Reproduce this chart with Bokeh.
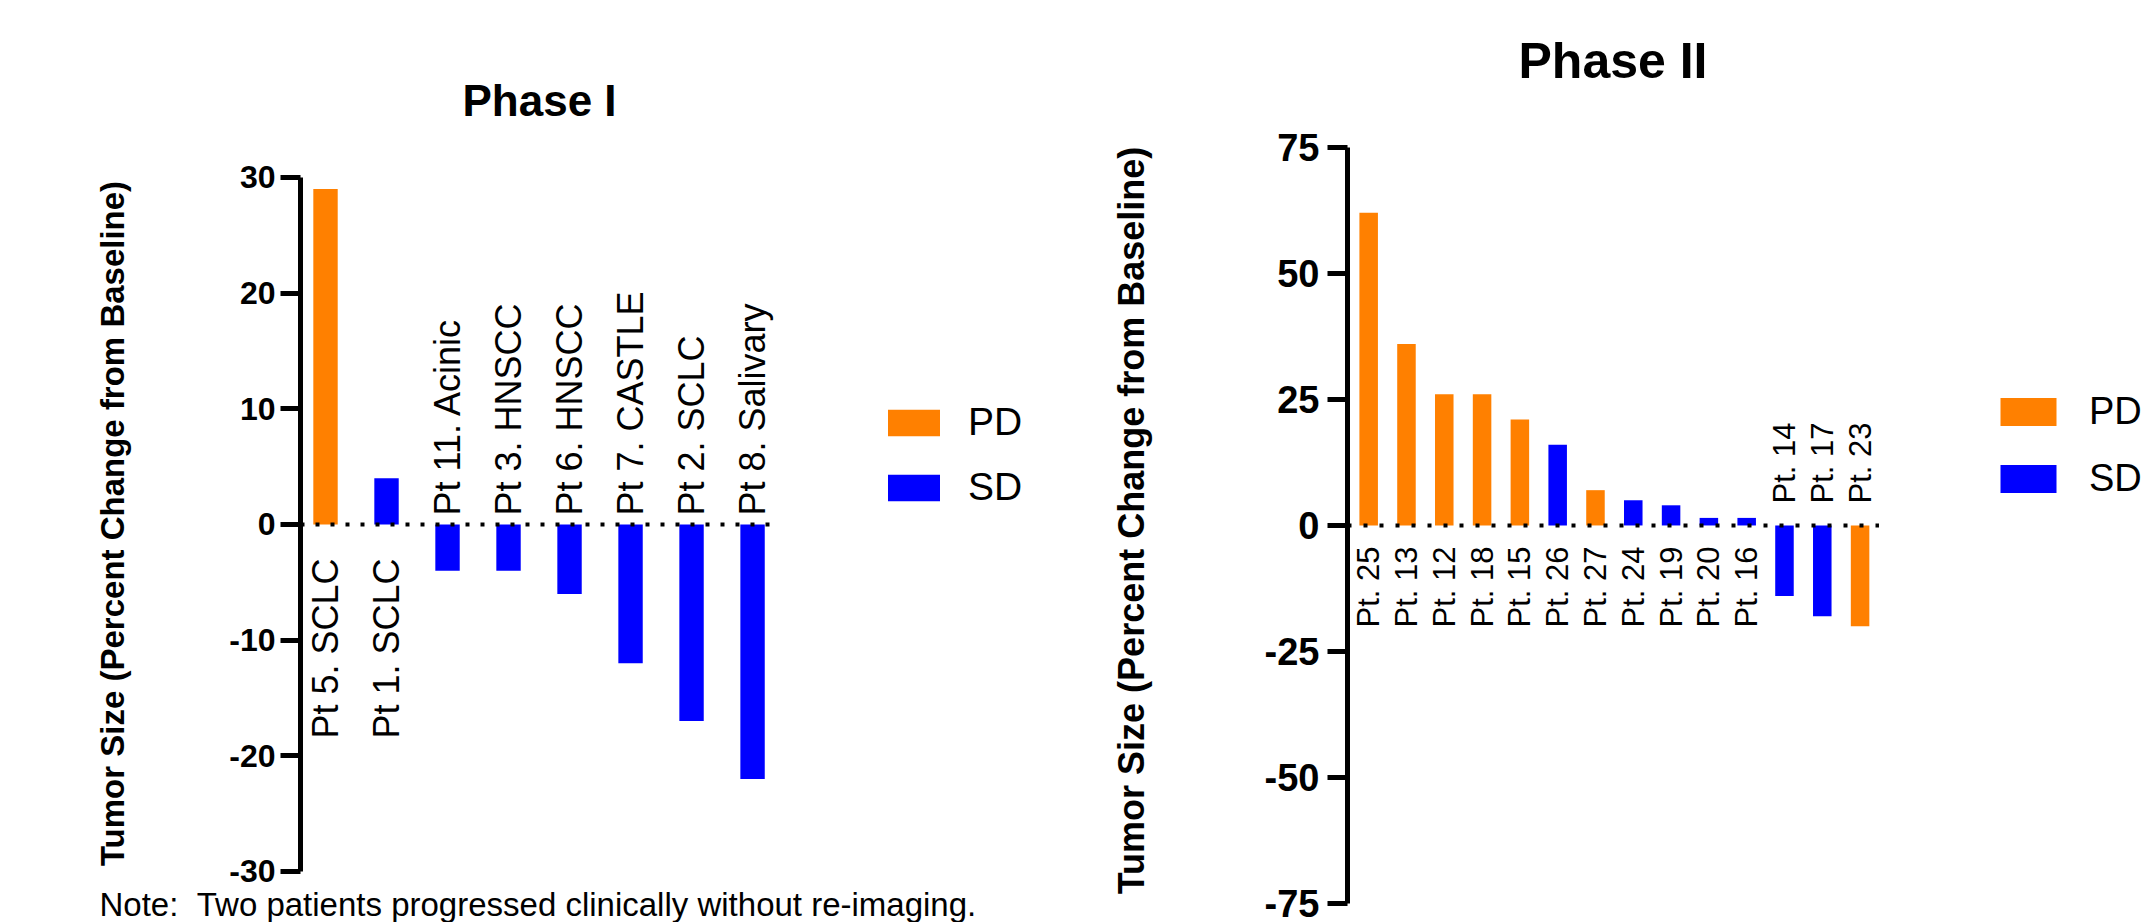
import math
from bokeh.plotting import figure
from bokeh.models import (ColumnDataSource, Range1d, FixedTicker, Legend,
                          LegendItem, Title)
from bokeh.layouts import row
from bokeh.embed import file_html
from bokeh.resources import INLINE
from bokeh.core.properties import value

# ---------------- data ----------------
p1_patients = ["Pt 5. SCLC", "Pt 1. SCLC", "Pt 11. Acinic", "Pt 3. HNSCC",
               "Pt 6. HNSCC", "Pt 7. CASTLE", "Pt 2. SCLC", "Pt 8. Salivary"]
p1_change = [29, 4, -4, -4, -6, -12, -17, -22]
p1_response = ["PD", "SD", "SD", "SD", "SD", "SD", "SD", "SD"]
p1_ticks = [-30, -20, -10, 0, 10, 20, 30]
p1_tick_labels = ["-30", "-20", "-10", "0", "10", "20", "30"]

p2_patients = ["Pt. 25", "Pt. 13", "Pt. 12", "Pt. 18", "Pt. 15", "Pt. 26", "Pt. 27",
               "Pt. 24", "Pt. 19", "Pt. 20", "Pt. 16", "Pt. 14", "Pt. 17", "Pt. 23"]
p2_change = [62, 36, 26, 26, 21, 16, 7, 5, 4, 1.5, 1.5, -14, -18, -20]
p2_response = ["PD", "PD", "PD", "PD", "PD", "SD", "PD", "SD", "SD", "SD", "SD",
               "SD", "SD", "PD"]
p2_ticks = [-75, -50, -25, 0, 25, 50, 75]
p2_tick_labels = ["-75", "-50", "-25", "0", "25", "50", "75"]

response_order = ["PD", "SD"]
response_colors = {"PD": "#FF8000", "SD": "#0000FF"}

y_title = "Tumor Size (Percent Change from Baseline)"
note_text = "Note:\u00a0\u00a0Two patients progressed clinically without re-imaging."
FONT = "Liberation Sans"


def make_panel(title, patients, change, response, ticks, tick_labels, cfg):
    n = len(patients)
    src = ColumnDataSource(dict(
        x=list(range(n)),
        top=change,
        label=patients,
        resp=response,
        color=[response_colors[r] for r in response],
        align=["right" if v > 0 else "left" for v in change],
        yoff=[cfg["pos_off"] if v > 0 else cfg["neg_off"] for v in change],
    ))
    p = figure(width=cfg["width"], height=922,
               x_range=Range1d(*cfg["xr"]), y_range=Range1d(*cfg["yr"]),
               output_backend="svg", toolbar_location=None,
               x_axis_location=None,
               min_border_left=cfg["mbl"], min_border_right=cfg["mbr"],
               min_border_top=cfg["mbt"], min_border_bottom=0)
    p.frame_align = False
    p.outline_line_color = None
    p.xgrid.visible = False
    p.ygrid.visible = False
    p.background_fill_color = "white"
    p.border_fill_color = "white"

    # title
    p.title = Title(text=title, align="left", offset=cfg["title_offset"],
                    text_font=FONT, text_font_style="bold",
                    text_font_size=cfg["title_size"], text_color="black",
                    standoff=cfg["title_standoff"])

    # y axis (line limited to the tick span)
    ax = p.yaxis[0]
    ax.bounds = (ticks[0], ticks[-1])
    ax.ticker = FixedTicker(ticks=ticks, minor_ticks=[])
    ax.major_label_overrides = {t: s for t, s in zip(ticks, tick_labels)}
    ax.axis_line_width = 5
    ax.axis_line_color = "black"
    ax.major_tick_line_width = 5
    ax.major_tick_line_color = "black"
    ax.major_tick_in = 0
    ax.major_tick_out = 20
    ax.minor_tick_line_color = None
    ax.major_label_text_font = FONT
    ax.major_label_text_font_style = "bold"
    ax.major_label_text_font_size = cfg["tick_size"]
    ax.major_label_text_color = "black"
    ax.major_label_standoff = cfg["tick_standoff"]
    ax.axis_label = y_title
    ax.axis_label_text_font = FONT
    ax.axis_label_text_font_style = "bold"
    ax.axis_label_text_font_size = cfg["ylab_size"]
    ax.axis_label_text_color = "black"
    ax.axis_label_standoff = cfg["ylab_standoff"]

    # bars
    bars = p.vbar(x="x", top="top", bottom=0, width=cfg["bar_w"], source=src,
                  fill_color="color", line_color=None)

    # dotted zero line spanning the bars
    p.segment(x0=cfg["xr"][0], y0=0, x1=n - 1 + cfg["line_pad"], y1=0,
              line_color="black", line_width=4, line_dash=cfg["dash"])

    # patient labels
    p.text(x="x", y=0, text="label", source=src, angle=math.pi / 2,
           text_align="align", text_baseline="middle", y_offset="yoff",
           text_font=value(FONT), text_font_size=cfg["lab_size"],
           text_color="black")

    # legend
    items = []
    for r in response_order:
        idx = response.index(r)
        items.append(LegendItem(label=r, renderers=[bars], index=idx))
    leg = Legend(items=items, location=cfg["leg_loc"],
                 glyph_width=cfg["gw"], glyph_height=cfg["gh"],
                 label_height=cfg["gh"], label_standoff=cfg["lstand"],
                 spacing=cfg["spacing"], padding=0, margin=0,
                 border_line_color=None, background_fill_alpha=0,
                 label_text_font=FONT, label_text_font_size=cfg["leg_size"],
                 label_text_color="black")
    p.add_layout(leg)
    return p


cfg1 = dict(width=1060, xr=(-0.41, 11.72), yr=(-31.04, 31.21), line_pad=0.43,
            mbl=300, mbr=20, mbt=163,
            title_size="44px", title_standoff=77, title_offset=162,
            tick_size="32px", tick_standoff=5,
            ylab_size="33px", ylab_standoff=95, dash="4 11", bar_w=0.4,
            pos_off=34, neg_off=-9, lab_size="36px",
            leg_loc=(581, 374), gw=65, gh=33, lstand=22, spacing=21,
            leg_size="39px")
cfg2 = dict(width=1090, xr=(-0.56, 20.63), yr=(-78.74, 80.71), line_pad=0.5,
            mbl=287, mbr=2, mbt=112,
            title_size="50px", title_standoff=60, title_offset=171,
            tick_size="38px", tick_standoff=8,
            ylab_size="36px", ylab_standoff=110, dash="4 12", bar_w=0.49,
            pos_off=21, neg_off=-22, lab_size="31px",
            leg_loc=(646, 422), gw=70, gh=35, lstand=26, spacing=24,
            leg_size="38px")

p1 = make_panel("Phase I", p1_patients, p1_change, p1_response, p1_ticks,
                p1_tick_labels, cfg1)
p2 = make_panel("Phase II", p2_patients, p2_change, p2_response, p2_ticks,
                p2_tick_labels, cfg2)

note = Title(text=note_text, align="left", offset=-201, standoff=0,
             text_font=FONT, text_font_size="33px", text_font_style="normal",
             text_color="black")
p1.add_layout(note, "below")

layout = row(p1, p2)
open("out.html", "w").write(file_html(layout, INLINE))
